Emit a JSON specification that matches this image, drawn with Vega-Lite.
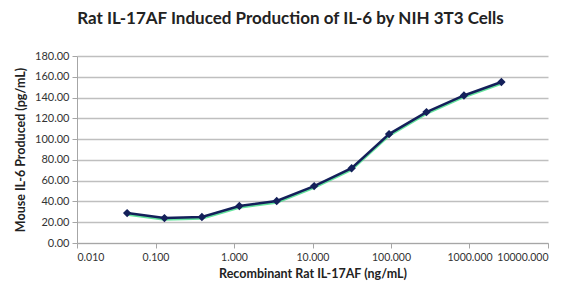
{
  "$schema": "https://vega.github.io/schema/vega-lite/v6.json",
  "width": 471,
  "height": 187,
  "autosize": {"type": "none"},
  "padding": {"left": 77, "top": 56, "right": 30, "bottom": 45},
  "background": "white",
  "title": {
    "text": "Rat IL-17AF Induced Production of IL-6 by NIH 3T3 Cells",
    "font": "Lato",
    "fontSize": 17,
    "fontWeight": "bold",
    "color": "#222222",
    "anchor": "middle",
    "dx": -22,
    "offset": 22
  },
  "data": {
    "values": [
      {"conc": 0.0435, "il6": 28.8},
      {"conc": 0.13, "il6": 24.0},
      {"conc": 0.39, "il6": 25.0},
      {"conc": 1.17, "il6": 35.6},
      {"conc": 3.5, "il6": 40.4},
      {"conc": 10.5, "il6": 54.8},
      {"conc": 31.5, "il6": 72.0},
      {"conc": 94.5, "il6": 104.8},
      {"conc": 283, "il6": 126.0},
      {"conc": 850, "il6": 142.0},
      {"conc": 2550, "il6": 155.0}
    ]
  },
  "encoding": {
    "x": {
      "field": "conc",
      "type": "quantitative",
      "scale": {"type": "log", "domain": [0.01, 10000], "nice": false},
      "axis": {
        "title": "Recombinant Rat IL-17AF (ng/mL)",
        "values": [0.01, 0.1, 1, 10, 100, 1000, 10000],
        "format": ".3f",
        "grid": false,
        "domainColor": "#a6a6a6",
        "tickColor": "#a6a6a6",
        "tickSize": 5,
        "labelPadding": 4,
        "labelOverlap": false,
        "labelFont": "Lato",
        "labelFontSize": 10.5,
        "labelColor": "#333333",
        "titleFont": "Lato",
        "titleFontSize": 12.5,
        "titleFontWeight": "bold",
        "titleColor": "#222222",
        "titlePadding": 5
      }
    },
    "y": {
      "field": "il6",
      "type": "quantitative",
      "scale": {"domain": [0, 180], "nice": false},
      "axis": {
        "title": "Mouse IL-6 Produced (pg/mL)",
        "values": [0, 20, 40, 60, 80, 100, 120, 140, 160, 180],
        "format": ".2f",
        "grid": true,
        "gridColor": "#bfbfbf",
        "gridWidth": 1.5,
        "domainColor": "#a6a6a6",
        "tickColor": "#a6a6a6",
        "tickSize": 5,
        "labelPadding": 3,
        "labelFont": "Lato",
        "labelFontSize": 11,
        "labelColor": "#333333",
        "titleFont": "Lato",
        "titleFontSize": 12.5,
        "titleFontWeight": "bold",
        "titleColor": "#222222",
        "titlePadding": 7
      }
    }
  },
  "layer": [
    {
      "mark": {"type": "line", "color": "#3ddc84", "strokeWidth": 2.5, "yOffset": 1.5, "opacity": 0.8}
    },
    {
      "mark": {"type": "line", "color": "#14205a", "strokeWidth": 2.5}
    },
    {
      "mark": {"type": "point", "shape": "diamond", "filled": true, "color": "#14205a", "size": 70, "opacity": 1}
    }
  ],
  "config": {"view": {"stroke": null}}
}
